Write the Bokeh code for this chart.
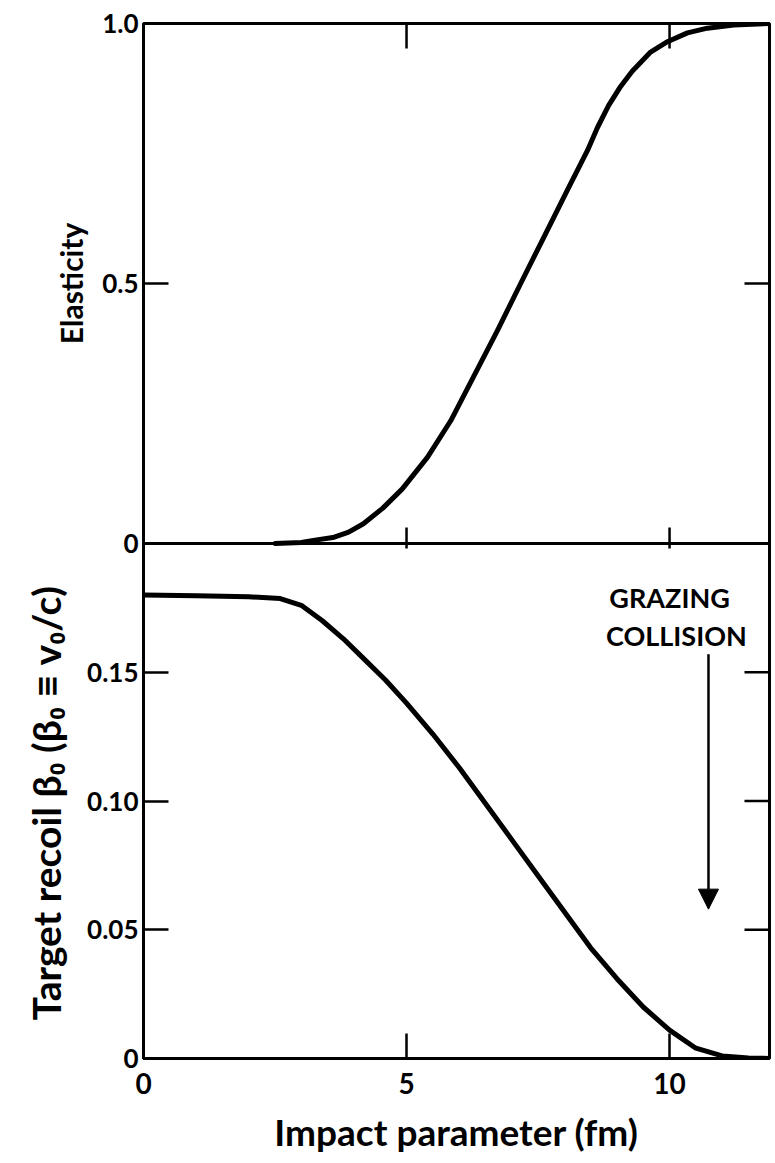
import math
from bokeh.plotting import figure
from bokeh.models import (Range1d, FixedTicker, Span, Label, Arrow, NormalHead)
from bokeh.embed import file_html
from bokeh.resources import INLINE

# ---------------- data ----------------
b_elast = [2.5, 3.0, 3.23, 3.6, 3.9, 4.18, 4.55, 4.92, 5.4, 5.84, 6.27, 6.73,
           7.17, 7.6, 8.06, 8.44, 8.63, 8.84, 9.07, 9.29, 9.64, 9.96, 10.34,
           10.72, 11.22, 11.9]
elasticity = [0.0, 0.002, 0.006, 0.0115, 0.022, 0.038, 0.068, 0.105, 0.166,
              0.236, 0.32, 0.41, 0.50, 0.587, 0.68, 0.756, 0.80, 0.842,
              0.879, 0.908, 0.945, 0.965, 0.982, 0.991, 0.997, 1.0]

b_recoil = [0.0, 1.0, 2.0, 2.6, 3.0, 3.4, 3.8, 4.2, 4.6, 5.0, 5.5, 6.0, 6.5,
            7.0, 7.5, 8.0, 8.5, 9.0, 9.5, 10.0, 10.5, 11.0, 11.5, 11.9]
recoil = [0.180, 0.1797, 0.1793, 0.1786, 0.176, 0.170, 0.163, 0.155, 0.147,
          0.138, 0.126, 0.113, 0.099, 0.085, 0.071, 0.057, 0.043, 0.031,
          0.020, 0.011, 0.004, 0.001, 0.0002, 0.0]

x_ticks = [0, 5, 10]
x_tick_labels = ["0", "5", "10"]
elast_ticks = [0.0, 0.5, 1.0]
elast_tick_labels = ["0", "0.5", "1.0"]
recoil_ticks = [0.0, 0.05, 0.10, 0.15]
recoil_tick_labels = ["0", "0.05", "0.10", "0.15"]

x_max = 11.9
recoil_max = 0.2          # top of the lower panel

note_lines = ["GRAZING", "COLLISION"]
note_x = [10.0, 10.13]
note_y = [0.179, 0.1643]
arrow_x = 10.74
arrow_y_start = 0.157
arrow_y_end = 0.058

title_elast = "Elasticity"
title_recoil = "Target recoil β₀ (β₀ ≡ v₀/c)"
title_x = "Impact parameter (fm)"

# ---------------- layout ----------------
FRAME_W = 626
H_TOP, H_BOT = 520, 515
y_max = recoil_max * (H_TOP + H_BOT) / H_BOT
k = recoil_max * H_TOP / H_BOT        # recoil units per unit elasticity
px_x = x_max / FRAME_W                # data x per pixel
px_y = recoil_max / H_BOT             # recoil units per pixel
TICK = 25

FONT = "Lato"

p = figure(width=775, height=1163, output_backend="svg", toolbar_location=None,
           x_range=Range1d(0, x_max), y_range=Range1d(0, y_max),
           min_border_left=143, min_border_right=6, min_border_top=23,
           min_border_bottom=105)
p.extra_y_ranges = {"elast": Range1d(-H_BOT / H_TOP, 1.0)}
p.grid.visible = False
p.outline_line_color = "black"
p.outline_line_width = 3
p.background_fill_color = "white"
p.border_fill_color = "white"


def style_axis(ax, size="26px"):
    ax.axis_line_width = 3
    ax.axis_line_color = "black"
    ax.major_tick_in = TICK
    ax.major_tick_out = 0
    ax.major_tick_line_width = 2.5
    ax.minor_tick_line_color = None
    ax.major_label_text_font = FONT
    ax.major_label_text_font_style = "bold"
    ax.major_label_text_font_size = size
    ax.major_label_text_color = "black"


# bottom x axis
xa = p.below[0]
style_axis(xa, "28px")
xa.ticker = FixedTicker(ticks=x_ticks)
xa.major_label_overrides = {t: s for t, s in zip(x_ticks, x_tick_labels)}
xa.major_label_standoff = 14
xa.axis_label = title_x
xa.axis_label_text_font = FONT
xa.axis_label_text_font_style = "bold"
xa.axis_label_text_font_size = "37px"
xa.axis_label_text_color = "black"
xa.axis_label_standoff = 12

# left y axis (both panels)
ya = p.left[0]
style_axis(ya, "26px")
left_ticks = list(recoil_ticks) + [recoil_max + e * k for e in elast_ticks]
left_labels = list(recoil_tick_labels) + list(elast_tick_labels)
ya.ticker = FixedTicker(ticks=left_ticks)
ya.major_label_overrides = {t: s for t, s in zip(left_ticks, left_labels)}
ya.major_label_standoff = 5

# y-axis titles (one per panel), placed in the left side panel
p.add_layout(Label(x=-73 * px_x, y=recoil_max + 0.5 * k, text=title_elast,
                   angle=math.pi / 2, text_align="center",
                   text_baseline="middle", text_font=FONT,
                   text_font_style="bold", text_font_size="30px",
                   text_line_height=0.9, text_color="black"), "left")
p.add_layout(Label(x=-98 * px_x, y=(1058 - 803) * px_y, text=title_recoil,
                   angle=math.pi / 2, text_align="center",
                   text_baseline="middle", text_font=FONT,
                   text_font_style="bold", text_font_size="39px",
                   text_line_height=0.9, text_color="black"), "left")

# right-side and top ticks (inward, no labels)
right_ticks = recoil_ticks[1:] + [recoil_max + 0.5 * k]
p.segment(x0=[x_max] * len(right_ticks), x1=[x_max - TICK * px_x] * len(right_ticks),
          y0=right_ticks, y1=right_ticks, line_color="black", line_width=2.5)
top_ticks = x_ticks[1:]
p.segment(x0=top_ticks, x1=top_ticks, y0=[y_max] * len(top_ticks),
          y1=[y_max - TICK * px_y] * len(top_ticks), line_color="black",
          line_width=2.5)

# separator between panels and its ticks
p.add_layout(Span(location=recoil_max, dimension="width", line_color="black",
                  line_width=3))
p.segment(x0=top_ticks, x1=top_ticks, y0=[recoil_max - 5 * px_y] * len(top_ticks),
          y1=[recoil_max + 16 * px_y] * len(top_ticks), line_color="black",
          line_width=2.5)

# curves
p.line(b_elast, elasticity, y_range_name="elast", line_color="black",
       line_width=5, line_join="round", line_cap="round")
p.line(b_recoil, recoil, line_color="black", line_width=5, line_join="round",
       line_cap="round")

# annotation
for t, x, y in zip(note_lines, note_x, note_y):
    p.add_layout(Label(x=x, y=y, text=t, text_align="center",
                       text_baseline="middle", text_font=FONT,
                       text_font_style="bold", text_font_size="27px",
                       text_color="black"))
p.add_layout(Arrow(end=NormalHead(size=20, fill_color="black", line_color="black"),
                   x_start=arrow_x, y_start=arrow_y_start, x_end=arrow_x,
                   y_end=arrow_y_end, line_width=2.5, line_color="black"))

open("out.html", "w").write(file_html(p, INLINE))
